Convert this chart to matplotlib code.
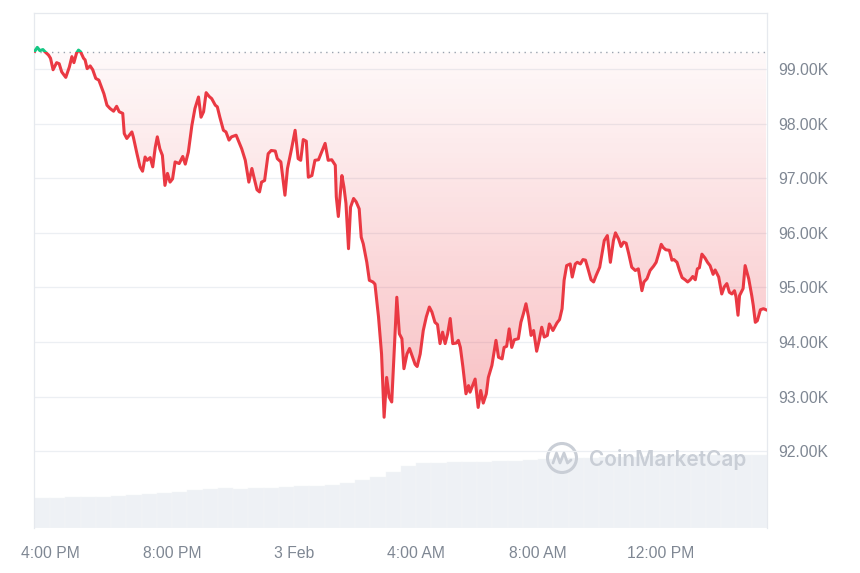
import numpy as np
import matplotlib
matplotlib.use('Agg')
import matplotlib.pyplot as plt
from matplotlib.patches import Rectangle, Circle
from matplotlib.lines import Line2D

# minutes after 4:00 PM (2 Feb)
minutes = [-30, -25, -20, -14, -10, -3, 1, 6, 13, 18,
           23, 31, 38, 43, 47, 52, 56, 60, 66, 69,
           73, 79, 84, 90, 96, 102, 106, 112, 118, 125,
           131, 136, 143, 146, 151, 156, 161, 164, 171, 177,
           182, 187, 191, 197, 202, 207, 211, 216, 221, 226,
           231, 236, 241, 246, 254, 261, 266, 272, 279, 285,
           292, 297, 302, 307, 313, 318, 325, 329, 334, 341,
           346, 352, 357, 366, 370, 377, 384, 391, 397, 401,
           407, 412, 416, 422, 429, 435, 443, 447, 454, 462,
           467, 475, 482, 488, 493, 498, 504, 508, 515, 521,
           528, 534, 541, 547, 554, 561, 563, 567, 574, 578,
           582, 587, 591, 597, 602, 608, 612, 616, 623, 628,
           635, 639, 646, 652, 657, 662, 667, 672, 677, 682,
           687, 692, 696, 702, 707, 713, 718, 722, 728, 734,
           740, 746, 751, 757, 762, 767, 772, 777, 782, 787,
           792, 799, 803, 807, 812, 818, 823, 826, 836, 842,
           847, 852, 858, 862, 869, 877, 882, 889, 893, 898,
           903, 908, 913, 921, 926, 931, 936, 941, 946, 951,
           957, 962, 967, 972, 978, 982, 989, 997, 1002, 1007,
           1011, 1016, 1023, 1027, 1033, 1037, 1043, 1048, 1053, 1058,
           1064, 1069, 1074, 1081, 1085, 1090, 1096, 1102, 1108, 1112,
           1118, 1123, 1128, 1133, 1138, 1144, 1151, 1157, 1164, 1168,
           1174, 1180, 1187, 1192, 1197, 1202, 1206, 1211, 1218, 1223,
           1227, 1233, 1238, 1243, 1249, 1254, 1259, 1264, 1269, 1273,
           1277, 1282, 1288, 1293, 1298, 1304, 1308, 1315, 1321, 1326,
           1331, 1336, 1341, 1346, 1349, 1353, 1356, 1363, 1367, 1374,
           1380, 1383, 1387, 1391, 1397, 1403, 1408]

price = [99330, 99400, 99340, 99360, 99320, 99260, 99200, 98990, 99120, 99100,
         98950, 98850, 99040, 99230, 99120, 99290, 99350, 99320, 99200, 99170,
         99010, 99060, 98990, 98830, 98800, 98650, 98550, 98340, 98280, 98230,
         98320, 98220, 98190, 97820, 97730, 97790, 97850, 97750, 97450, 97210,
         97130, 97390, 97330, 97380, 97210, 97570, 97760, 97540, 97420, 96870,
         97090, 96930, 96990, 97300, 97270, 97400, 97260, 97480, 97970, 98280,
         98490, 98120, 98220, 98570, 98500, 98460, 98340, 98310, 98120, 97880,
         97850, 97700, 97760, 97790, 97700, 97540, 97330, 96930, 97180, 97020,
         96790, 96750, 96930, 96960, 97450, 97510, 97500, 97360, 97300, 96690,
         97180, 97540, 97880, 97360, 97330, 97710, 97680, 97020, 97050, 97330,
         97340, 97480, 97640, 97330, 97340, 97240, 96660, 96300, 97050, 96840,
         96540, 95710, 96470, 96630, 96570, 96440, 95920, 95800, 95460, 95130,
         95100, 95060, 94460, 93780, 92620, 93350, 92990, 92900, 93880, 94820,
         94150, 94060, 93510, 93780, 93880, 93720, 93590, 93550, 93780, 94210,
         94460, 94640, 94550, 94360, 94320, 93970, 94180, 93970, 94150, 94430,
         93970, 93980, 94030, 93900, 93540, 93050, 93200, 93080, 93320, 92800,
         93110, 92880, 93050, 93350, 93570, 94030, 93720, 93690, 93900, 93920,
         94240, 93900, 94040, 94060, 94360, 94520, 94700, 94460, 94120, 94210,
         93830, 94030, 94270, 94090, 94120, 94330, 94210, 94350, 94410, 94610,
         95130, 95400, 95430, 95190, 95430, 95460, 95430, 95510, 95500, 95340,
         95140, 95100, 95220, 95370, 95590, 95860, 95950, 95460, 95860, 96000,
         95890, 95750, 95830, 95810, 95620, 95370, 95310, 95340, 94940, 95100,
         95160, 95310, 95390, 95460, 95620, 95790, 95730, 95690, 95680, 95500,
         95510, 95460, 95310, 95180, 95140, 95100, 95140, 95200, 95140, 95340,
         95360, 95610, 95540, 95460, 95400, 95240, 95320, 95190, 94880, 95010,
         95070, 94910, 94880, 94940, 94830, 94490, 94850, 94980, 95400, 95160,
         94850, 94670, 94360, 94390, 94590, 94610, 94590]

open_price = 99310

# volume per 30-minute bucket (billions USD)
volume = [24.0, 24.0, 24.8, 24.8, 24.8, 25.6, 26.4, 27.2, 28.0, 28.8,
          30.4, 31.2, 32.0, 31.2, 32.0, 32.0, 32.8, 33.6, 33.6, 34.4,
          36.0, 38.4, 40.8, 44.8, 49.6, 52.0, 52.0, 52.8, 52.8, 52.8,
          53.6, 53.6, 54.4, 55.2, 56.0, 56.0, 56.0, 56.8, 56.8, 56.8,
          57.6, 57.6, 58.4, 58.4, 58.4, 58.4, 58.4, 58.4]

xtick_pos = [0, 240, 480, 720, 960, 1200]
xtick_labels = ['4:00 PM', '8:00 PM', '3 Feb', '4:00 AM', '8:00 AM', '12:00 PM']
ytick_vals = [92000, 93000, 94000, 95000, 96000, 97000, 98000, 99000]

t = np.array(minutes, dtype=float)
p = np.array(price, dtype=float)

RED = '#ea3943'
GREEN = '#16c784'
GRID = '#eceff3'
TXT = '#7f8793'

fig = plt.figure(figsize=(8.6, 5.73), dpi=100)
ax = fig.add_axes([34 / 860, 1 - 528 / 573, 733 / 860, 515 / 573])
ax2 = ax.twinx()

xmin, xmax = -31.5, 1410
ymin, ymax = 90590, 100030

# volume bars
vol_start = -30 + 30 * np.arange(len(volume))
ax2.bar(vol_start, volume, width=30, align='edge', color='#eef1f5',
        edgecolor='#f4f6f8', linewidth=0.3)
ax2.set_ylim(0, max(volume) * 7.05)
ax2.set_yticks([])
ax2.set_xlim(xmin, xmax)
for s in ax2.spines.values():
    s.set_visible(False)

ax.set_zorder(ax2.get_zorder() + 1)
ax.patch.set_visible(False)

# gradient fill between line and open price
lower = np.minimum(p, open_price)
fill = ax.fill_between(t, lower, open_price, color='none', lw=0)
grad = np.linspace(0.32, 0.03, 256).reshape(-1, 1)
rgba = np.zeros((256, 1, 4))
rgba[..., 0], rgba[..., 1], rgba[..., 2] = 0.918, 0.224, 0.263
rgba[..., 3] = grad
img = ax.imshow(rgba, extent=[xmin, xmax, p.min(), open_price], origin='lower',
                aspect='auto', interpolation='bilinear', zorder=1)
img.set_clip_path(fill.get_paths()[0], transform=ax.transData)

# grid
for v in ytick_vals:
    ax.axhline(v, color=GRID, lw=0.9, zorder=0.5)

# open price dotted line
ax.axhline(open_price, color='#9aa3af', lw=1.0, ls=(0, (1, 3.2)), zorder=2)

# price line, red below open and green above
red_line, = ax.plot(t, p, color=RED, lw=2.2, zorder=3, solid_joinstyle='round')
green_line, = ax.plot(t, p, color=GREEN, lw=2.2, zorder=4, solid_joinstyle='round')
green_line.set_clip_path(Rectangle((xmin, open_price), xmax - xmin, ymax - open_price,
                                   transform=ax.transData))
red_line.set_clip_path(Rectangle((xmin, ymin), xmax - xmin, open_price - ymin,
                                 transform=ax.transData))

ax.set_xlim(xmin, xmax)
ax.set_ylim(ymin, ymax)

ax.set_xticks(xtick_pos)
ax.set_xticklabels(xtick_labels)
ax.set_yticks(ytick_vals)
ax.set_yticklabels(['%.2fK' % (v / 1000) for v in ytick_vals])
ax.yaxis.tick_right()
ax.tick_params(axis='x', length=0, pad=13, labelsize=11.3, labelcolor=TXT)
ax.tick_params(axis='y', length=0, pad=8, labelsize=11.3, labelcolor=TXT)
for lab in ax.get_xticklabels() + ax.get_yticklabels():
    lab.set_fontfamily('Liberation Sans')

for name, s in ax.spines.items():
    if name == 'bottom':
        s.set_visible(False)
    else:
        s.set_color('#e6e9ee')
        s.set_linewidth(0.9)

# watermark
wm = '#c9ced6'
fig.text(589 / 860, 1 - 459 / 573, 'CoinMarketCap', fontsize=15, color=wm,
         fontweight='semibold', family='Inter', va='center', ha='left')
fig.add_artist(Circle((5.62, 5.73 - 4.58), 0.145, transform=fig.dpi_scale_trans,
                      fill=False, edgecolor=wm, lw=2.2))
fig.add_artist(Line2D([5.53, 5.565, 5.60, 5.64, 5.675, 5.71],
                      [1.10, 1.20, 1.10, 1.20, 1.10, 1.13],
                      transform=fig.dpi_scale_trans, color=wm, lw=2.0,
                      solid_joinstyle='round', solid_capstyle='round'))

fig.savefig('out.png', dpi=100)
